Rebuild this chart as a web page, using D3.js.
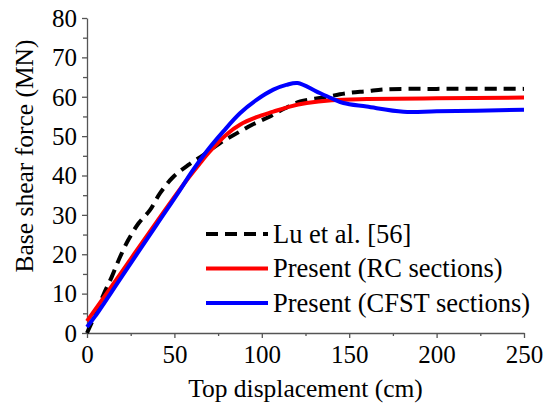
<html><body style="margin:0">
<script src="https://cdn.jsdelivr.net/npm/d3@7/dist/d3.min.js"></script>
<script>

var width = 545;
var height = 414;
var fontFam = "Liberation Serif";

// data: [top displacement (cm), base shear (MN)]
var luData = [[0,0],[5,5],[9.3,9.6],[14.1,14.2],[18.9,19.3],[23.6,23.6],[29.4,27.8],[36,31.2],
	[41.8,35.5],[49,39.5],[58,42.7],[66.5,45.2],[76,48.2],[85.6,50.7],[95,53],[104.7,55],
	[113,57],[122,58.8],[135,59.8],[148.6,60.9],[160,61.4],[171.4,61.9],[200,62],[250,62]];
var rcData = [[0,3],[20,15.6],[40,28.3],[57,38.8],[65,43.3],[70,46],[80,50.5],[87.5,52.9],
	[97,54.8],[106.6,56.2],[116,57.5],[125.7,58.4],[140,59.1],[160,59.4],[200,59.6],[250,59.8]];
var cfstData = [[0,1.5],[4.6,4.2],[20,14.4],[40,27.6],[53.2,36.3],[60,41],[68.4,46.1],[78,51.2],
	[87.5,55.8],[97,59.2],[106.6,61.8],[114,63],[120.5,63.5],[131.4,61.3],[140,59.6],
	[146.7,58.4],[160,57.5],[181,56.2],[200,56.3],[250,56.7]];

var seriesNames = ["Lu et al. [56]","Present (RC sections)","Present (CFST sections)"];
var seriesColors = ["#000000","#ff0000","#0000ff"];
var seriesDash = ["12,7",null,null];

var xTicks = [0,50,100,150,200,250];
var yTicks = [0,10,20,30,40,50,60,70,80];

var padding = {left:87,right:21,top:18,bottom:81};

var svg = d3.select("body").append("svg")
			.attr("width",width)
			.attr("height",height);

var x = d3.scaleLinear().domain([0,250]).range([padding.left,width - padding.right]);
var y = d3.scaleLinear().domain([0,80]).range([height - padding.bottom,padding.top]);

// minor ticks
svg.append("g")
	.attr("transform","translate(0," + y(0) + ")")
	.call(d3.axisBottom(x).tickValues(d3.range(25,250,50)).tickSize(3).tickFormat(""))
	.select(".domain").remove();
svg.append("g")
	.attr("transform","translate(" + x(0) + ",0)")
	.call(d3.axisLeft(y).tickValues(d3.range(5,80,10)).tickSize(4).tickFormat(""))
	.select(".domain").remove();

// major ticks
var xAxis = svg.append("g")
	.attr("transform","translate(0," + y(0) + ")")
	.call(d3.axisBottom(x).tickValues(xTicks).tickSize(5).tickSizeOuter(0).tickPadding(6));
var yAxis = svg.append("g")
	.attr("transform","translate(" + x(0) + ",0)")
	.call(d3.axisLeft(y).tickValues(yTicks).tickSize(5).tickSizeOuter(0).tickPadding(5));

svg.selectAll(".domain, .tick line").attr("stroke","#555").attr("stroke-width",1.3);

xAxis.selectAll("text").attr("font-family",fontFam).attr("font-size",25)
	.attr("fill","#000").attr("dy","0.77em");
yAxis.selectAll("text").attr("font-family",fontFam).attr("font-size",25)
	.attr("fill","#000").attr("dy","0.33em");

// axis titles
svg.append("text")
	.attr("x",(x(0) + x(250))/2)
	.attr("y",397)
	.attr("text-anchor","middle")
	.attr("font-family",fontFam)
	.attr("font-size",25.5)
	.text("Top displacement (cm)");

svg.append("text")
	.attr("transform","translate(33,156) rotate(-90)")
	.attr("text-anchor","middle")
	.attr("font-family",fontFam)
	.attr("font-size",25.5)
	.text("Base shear force (MN)");

// curves
var line = d3.line()
	.x(function(d){ return x(d[0]); })
	.y(function(d){ return y(d[1]); })
	.curve(d3.curveCatmullRom.alpha(0.5));

var allData = [luData,rcData,cfstData];

svg.selectAll(".curve")
	.data(allData)
	.enter()
	.append("path")
	.attr("class","curve")
	.attr("fill","none")
	.attr("stroke-width",4)
	.attr("d",line)
	.attr("stroke",function(d,i){ return seriesColors[i]; })
	.attr("stroke-dasharray",function(d,i){ return seriesDash[i]; });

// legend
var legend = svg.selectAll(".legend")
	.data(seriesNames)
	.enter()
	.append("g")
	.attr("class","legend")
	.attr("transform",function(d,i){ return "translate(206," + (234 + i*34.5) + ")"; });

legend.append("line")
	.attr("x1",0)
	.attr("x2",62)
	.attr("stroke-width",4)
	.attr("stroke",function(d,i){ return seriesColors[i]; })
	.attr("stroke-dasharray",function(d,i){ return seriesDash[i]; });

legend.append("text")
	.attr("x",67)
	.attr("dy","0.33em")
	.attr("font-family",fontFam)
	.attr("font-size",26.5)
	.text(function(d){ return d; });

</script>
</body>
</html>
